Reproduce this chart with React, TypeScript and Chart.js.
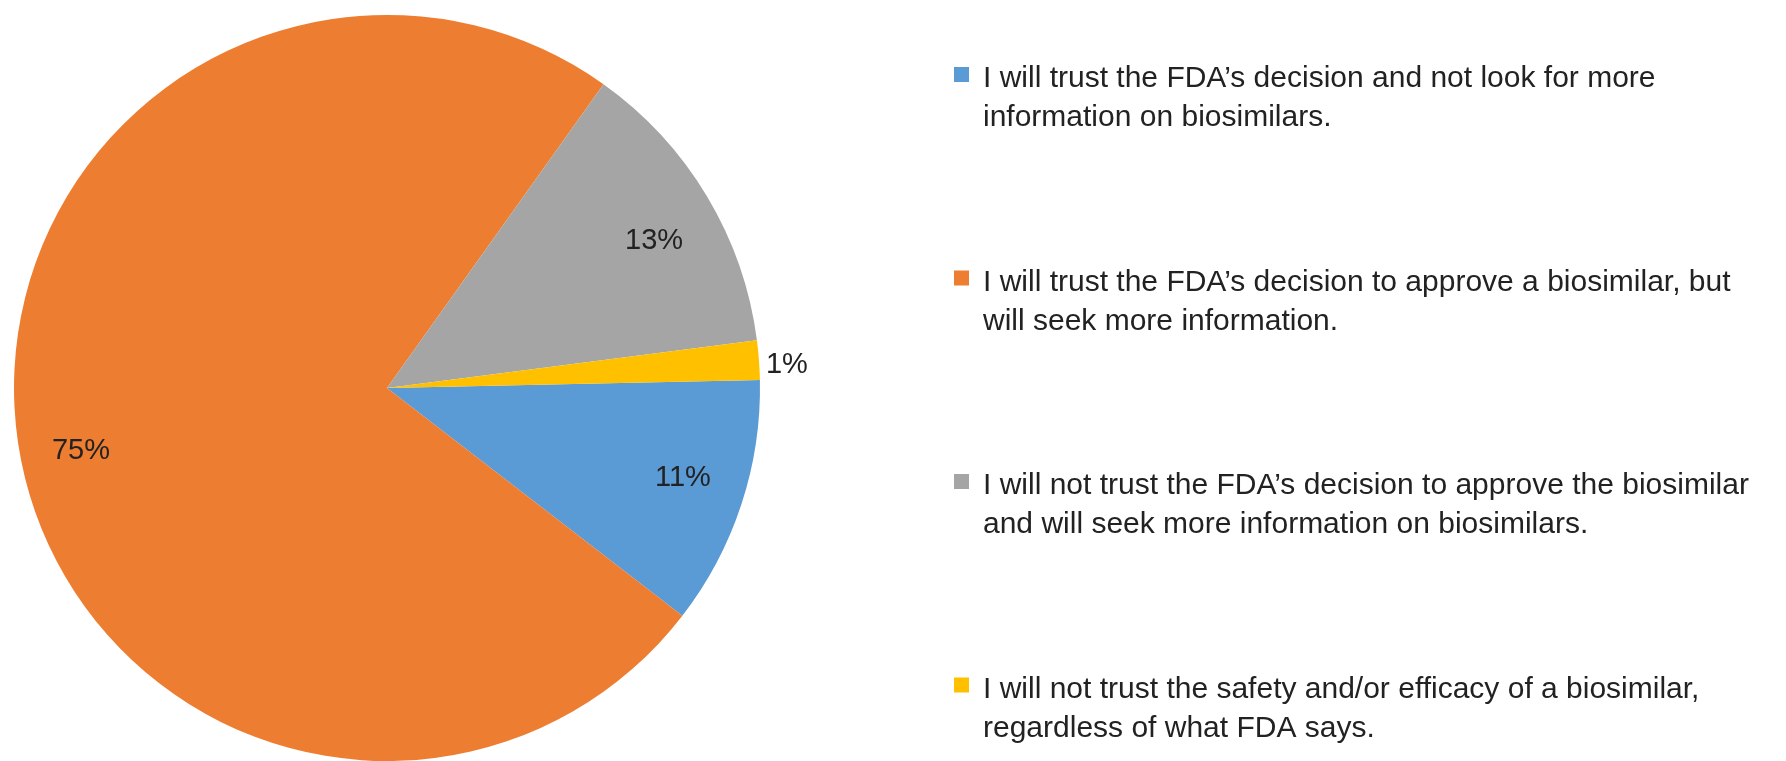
import React, { useEffect, useRef } from "react";
import { Chart, registerables } from "chart.js";

Chart.register(...registerables);

const categories: string[][] = [
  ["I will trust the FDA’s decision and not look for more", "information on biosimilars."],
  ["I will trust the FDA’s decision to approve a biosimilar, but", "will seek more information."],
  ["I will not trust the FDA’s decision to approve the biosimilar", "and will seek more information on biosimilars."],
  ["I will not trust the safety and/or efficacy of a biosimilar,", "regardless of what FDA says."],
];
const values: number[] = [10.8, 74.4, 13.1, 1.7];
const percentLabels: string[] = ["11%", "75%", "13%", "1%"];
const colors: string[] = ["#5B9BD5", "#ED7D31", "#A5A5A5", "#FFC000"];

// small per-label nudges (px) mimicking Excel's "best fit" label placement
const labelNudge: number[][] = [[0, -7], [2, 17], [0, 13], [0, 7]];

const FONT = '"Liberation Sans", Arial, Helvetica, sans-serif';
const TEXT_COLOR = "#222222";

const labelPlugin = {
  id: "pieLabels",
  afterDatasetsDraw(chart: any) {
    const ctx = chart.ctx;
    const meta = chart.getDatasetMeta(0);
    const total = values.reduce((a, b) => a + b, 0);
    ctx.save();
    ctx.font = `29px ${FONT}`;
    ctx.fillStyle = TEXT_COLOR;
    ctx.textAlign = "center";
    ctx.textBaseline = "middle";
    meta.data.forEach((arc: any, i: number) => {
      const mid = (arc.startAngle + arc.endAngle) / 2;
      const small = values[i] / total < 0.03;
      const r = small ? arc.outerRadius + 28 : arc.outerRadius * 0.835;
      const x = arc.x + Math.cos(mid) * r + labelNudge[i][0];
      const y = arc.y + Math.sin(mid) * r + labelNudge[i][1];
      ctx.fillText(percentLabels[i], x, y);
    });
    ctx.restore();
  },
};

const legendPlugin = {
  id: "sideLegend",
  afterDraw(chart: any) {
    const ctx = chart.ctx;
    const boxX = 954;
    const textX = 983;
    const firstBaseline = 87;
    const entryGap = 203.5;
    const lineGap = 39;
    const box = 15;
    ctx.save();
    ctx.font = `30px ${FONT}`;
    ctx.textAlign = "left";
    ctx.textBaseline = "alphabetic";
    categories.forEach((lines, i) => {
      const base = firstBaseline + i * entryGap;
      ctx.fillStyle = colors[i];
      ctx.fillRect(boxX, base - 20, box, box);
      ctx.fillStyle = TEXT_COLOR;
      lines.forEach((line, j) => {
        ctx.fillText(line, textX, base + j * lineGap);
      });
    });
    ctx.restore();
  },
};

export default function App() {
  const canvasRef = useRef<HTMLCanvasElement | null>(null);

  useEffect(() => {
    document.body.style.margin = "0";
    const canvas = canvasRef.current;
    if (!canvas) return;
    const chart = new Chart(canvas, {
      type: "pie",
      data: {
        labels: categories.map((l) => l.join(" ")),
        datasets: [
          {
            data: values,
            backgroundColor: colors,
            borderWidth: 0,
            hoverOffset: 0,
          },
        ],
      },
      options: {
        responsive: false,
        animation: false,
        rotation: 88.76,
        layout: { padding: { left: 13, top: 15, right: 1025, bottom: 0 } },
        plugins: {
          legend: { display: false },
          tooltip: { enabled: false },
        },
      },
      plugins: [labelPlugin, legendPlugin],
    });
    return () => chart.destroy();
  }, []);

  return (
    <div style={{ width: 1786, height: 761, background: "#ffffff" }}>
      <canvas ref={canvasRef} width={1786} height={761} style={{ display: "block" }} />
    </div>
  );
}
